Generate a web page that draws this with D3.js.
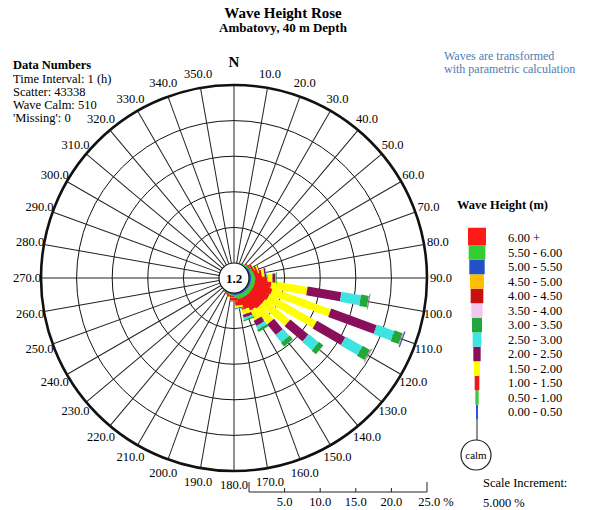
<!DOCTYPE html>
<html>
<head>
<meta charset="utf-8">
<script src="https://cdn.jsdelivr.net/npm/d3@7"></script>
<style>
  body { margin: 0; background: #fff; }
  svg { display: block; font-family: "Liberation Serif", "DejaVu Serif", serif; }
</style>
</head>
<body>
<svg id="rose"></svg>
<script>
// Wave height classes (lowest first) and their colours
const heightClasses = ["0.00 - 0.50", "0.50 - 1.00", "1.00 - 1.50", "1.50 - 2.00", "2.00 - 2.50",
  "2.50 - 3.00", "3.00 - 3.50", "3.50 - 4.00", "4.00 - 4.50", "4.50 - 5.00", "5.00 - 5.50",
  "5.50 - 6.00", "6.00 +"];
const classColors = ["#2f52d8", "#3fc83f", "#f01818", "#ffff00", "#8a0f5a", "#3fe3e0",
  "#22a83a", "#f2c6ee", "#c81010", "#ffbf00", "#2250c8", "#33cc33", "#ff1a1a"];

// Direction bins (deg, clockwise from N) that carry waves
const petalDirs = [20, 30, 40, 50, 60, 70, 80, 90, 100, 110, 120, 130, 140, 150, 160, 170, 180, 190, 200, 210, 220];

// Frequency (%) per class, same order as petalDirs
const h000 = [0.05, 0.1, 0.1, 0.2, 0.3, 0.3, 0.3, 0.3, 0.3, 0.3, 0.3, 0.3, 0.3, 0.3, 0.3, 0.3, 0.3, 0.2, 0.15, 0.1, 0.05];
const h050 = [0.05, 0.1, 0.1, 0.2, 0.3, 0.4, 0.5, 0.6, 0.6, 0.6, 0.6, 0.6, 0.6, 0.6, 0.6, 0.6, 0.4, 0.2, 0.15, 0.1, 0.05];
const h100 = [0, 0, 0, 0.1, 0.3, 0.6, 1.0, 1.7, 2.3, 2.6, 2.5, 2.3, 2.3, 2.1, 1.6, 0.9, 0.4, 0.2, 0.1, 0.05, 0];
const h150 = [0, 0, 0, 0, 0.1, 0.2, 0.4, 0.7, 5.1, 8.7, 7.6, 4.5, 2.7, 1.5, 0.7, 0.3, 0.1, 0.05, 0, 0, 0];
const h200 = [0, 0, 0, 0, 0, 0.1, 0.2, 0.4, 4.8, 6.8, 4.6, 3.3, 1.9, 0.8, 0.4, 0.1, 0.05, 0, 0, 0, 0];
const h250 = [0, 0, 0, 0, 0, 0, 0.1, 0.1, 2.8, 2.6, 2.7, 1.8, 1.3, 0.5, 0.3, 0.1, 0, 0, 0, 0, 0];
const h300 = [0, 0, 0, 0, 0, 0, 0, 0.1, 1.1, 1.2, 1.2, 0.8, 0.7, 0.4, 0.2, 0, 0, 0, 0, 0, 0];
const h350 = [0, 0, 0, 0, 0, 0, 0, 0, 0.05, 0.05, 0.05, 0.05, 0, 0, 0, 0, 0, 0, 0, 0, 0];
const h400 = [0, 0, 0, 0, 0, 0, 0, 0, 0.05, 0.05, 0.05, 0, 0, 0, 0, 0, 0, 0, 0, 0, 0];
const h450 = [0, 0, 0, 0, 0, 0, 0, 0, 0, 0.05, 0.05, 0, 0, 0, 0, 0, 0, 0, 0, 0, 0];
const h500 = [0, 0, 0, 0, 0, 0, 0, 0, 0.05, 0.15, 0.05, 0, 0, 0, 0, 0, 0, 0, 0, 0, 0];
const h550 = [0, 0, 0, 0, 0, 0, 0, 0, 0, 0, 0, 0, 0, 0, 0, 0, 0, 0, 0, 0, 0];
const h600 = [0, 0, 0, 0, 0, 0, 0, 0, 0, 0, 0, 0, 0, 0, 0, 0, 0, 0, 0, 0, 0];
const classFreqs = [h000, h050, h100, h150, h200, h250, h300, h350, h400, h450, h500, h550, h600];

// Grid / axis labels
const ringSteps = [5, 10, 15, 20, 25];
const spokeAngles = [0, 10, 20, 30, 40, 50, 60, 70, 80, 90, 100, 110, 120, 130, 140, 150, 160, 170,
  180, 190, 200, 210, 220, 230, 240, 250, 260, 270, 280, 290, 300, 310, 320, 330, 340, 350];
const scaleTicks = [0, 5, 10, 15, 20, 25];
const scaleLabels = ["", "5.0", "10.0", "15.0", "20.0", "25.0 %"];
const calmPct = "1.2";
const infoLines = ["Time Interval: 1 (h)", "Scatter: 43338", "Wave Calm: 510", "'Missing': 0"];

const width = 598, height = 510;
const cx = 234, cy = 278, r0 = 15, R = 193;

const svg = d3.select("#rose").attr("width", width).attr("height", height);

const r = d3.scaleLinear().domain([0, 25]).range([r0, R]);
const petalW = d3.scaleLinear().domain([0, 12]).range([4, 19]);
const keyW = d3.scaleLinear().domain([0, 12]).range([2, 18]);

// Titles
svg.append("text").attr("x", 283).attr("y", 18).attr("text-anchor", "middle")
  .attr("font-size", "15px").attr("font-weight", "bold").text("Wave Height Rose");
svg.append("text").attr("x", 283).attr("y", 32).attr("text-anchor", "middle")
  .attr("font-size", "13px").attr("font-weight", "bold").text("Ambatovy, 40 m Depth");

// Data numbers block
svg.append("text").attr("x", 13).attr("y", 69).attr("font-size", "12.5px")
  .attr("font-weight", "bold").text("Data Numbers");
svg.selectAll(".info").data(infoLines).enter().append("text")
  .attr("x", 13).attr("y", (d, i) => 83 + i * 13)
  .attr("font-size", "12.5px").text(d => d);

// Note on the right
svg.append("text").attr("x", 444).attr("y", 60).attr("font-size", "12px")
  .attr("fill", "#4d7db3").text("Waves are transformed");
svg.append("text").attr("x", 444).attr("y", 73).attr("font-size", "12px")
  .attr("fill", "#4d7db3").text("with parametric calculation");

const rose = svg.append("g").attr("transform", `translate(${cx},${cy})`);

// Rings
rose.selectAll(".ring").data(ringSteps).enter().append("circle")
  .attr("r", d => r(d)).attr("fill", "none").attr("stroke", "#111")
  .attr("stroke-width", d => d === 25 ? 2.6 : 1);

// Spokes
rose.selectAll(".spoke").data(spokeAngles).enter().append("line")
  .attr("transform", d => `rotate(${d})`)
  .attr("y1", -r0).attr("y2", -R).attr("stroke", "#222").attr("stroke-width", 1);

// Direction labels
rose.selectAll(".dirlab").data(spokeAngles.filter(d => d !== 0)).enter().append("text")
  .attr("x", d => 207 * Math.sin(d * Math.PI / 180))
  .attr("y", d => -207 * Math.cos(d * Math.PI / 180))
  .attr("text-anchor", "middle").attr("dominant-baseline", "central")
  .attr("font-size", "12.5px").text(d => d.toFixed(1));
rose.append("text").attr("x", 0).attr("y", -216).attr("text-anchor", "middle")
  .attr("dominant-baseline", "central").attr("font-size", "15px").attr("font-weight", "bold").text("N");

// Petal segments
const segments = [];
petalDirs.forEach((dir, i) => {
  let acc = 0;
  classFreqs.forEach((arr, c) => {
    const v = arr[i];
    if (v > 0) segments.push({ dir, c, from: acc, to: acc + v });
    acc += v;
  });
});
segments.sort((a, b) => a.c - b.c);
rose.selectAll(".seg").data(segments).enter().append("rect")
  .attr("transform", d => `rotate(${d.dir})`)
  .attr("x", d => -petalW(d.c) / 2)
  .attr("width", d => petalW(d.c))
  .attr("y", d => -r(d.to))
  .attr("height", d => r(d.to) - r(d.from))
  .attr("fill", d => classColors[d.c]);

// Calm circle
rose.append("circle").attr("r", r0).attr("fill", "#fff").attr("stroke", "#111").attr("stroke-width", 1.2);
rose.append("text").attr("text-anchor", "middle").attr("dominant-baseline", "central")
  .attr("font-size", "13px").attr("font-weight", "bold").text(calmPct);

// Scale bar
const sb = svg.append("g").attr("transform", `translate(${cx},492)`);
sb.append("line").attr("x1", r(0)).attr("x2", r(25)).attr("stroke", "#222");
sb.selectAll(".tk").data(scaleTicks).enter().append("line")
  .attr("x1", d => r(d)).attr("x2", d => r(d))
  .attr("y1", 0).attr("y2", d => (d === 0 || d === 25) ? -10 : -4)
  .attr("stroke", "#222");
sb.selectAll(".tl").data(scaleTicks).enter().append("text")
  .attr("x", (d, i) => r(d) + (i === scaleTicks.length - 1 ? 9 : 0))
  .attr("y", 14).attr("text-anchor", "middle").attr("font-size", "12.5px")
  .text((d, i) => scaleLabels[i]);

// Legend
svg.append("text").attr("x", 457).attr("y", 209).attr("font-size", "12.5px")
  .attr("font-weight", "bold").text("Wave Height (m)");
const rowY = c => 238 + (heightClasses.length - 1 - c) * 14.5;
const legend = svg.append("g");
legend.selectAll("rect").data(heightClasses).enter().append("rect")
  .attr("x", (d, c) => 477 - keyW(c) / 2).attr("width", (d, c) => keyW(c))
  .attr("y", (d, c) => rowY(c) - 7.25 - (c === heightClasses.length - 1 ? 3 : 0))
  .attr("height", (d, c) => 14.5 + (c === heightClasses.length - 1 ? 3 : 0))
  .attr("fill", (d, c) => classColors[c]);
legend.selectAll("text").data(heightClasses).enter().append("text")
  .attr("x", 508).attr("y", (d, c) => rowY(c)).attr("dominant-baseline", "central")
  .attr("font-size", "12.5px").text(d => d);
legend.append("line").attr("x1", 477).attr("x2", 477).attr("y1", rowY(0) + 7.25).attr("y2", 440)
  .attr("stroke", "#222");
legend.append("circle").attr("cx", 476).attr("cy", 455).attr("r", 15)
  .attr("fill", "#fff").attr("stroke", "#222").attr("stroke-width", 1.2);
legend.append("text").attr("x", 476).attr("y", 455).attr("text-anchor", "middle")
  .attr("dominant-baseline", "central").attr("font-size", "11px").text("calm");

svg.append("text").attr("x", 483).attr("y", 487).attr("font-size", "12.5px").text("Scale Increment:");
svg.append("text").attr("x", 483).attr("y", 507).attr("font-size", "12.5px").text("5.000 %");
</script>
</body>
</html>
